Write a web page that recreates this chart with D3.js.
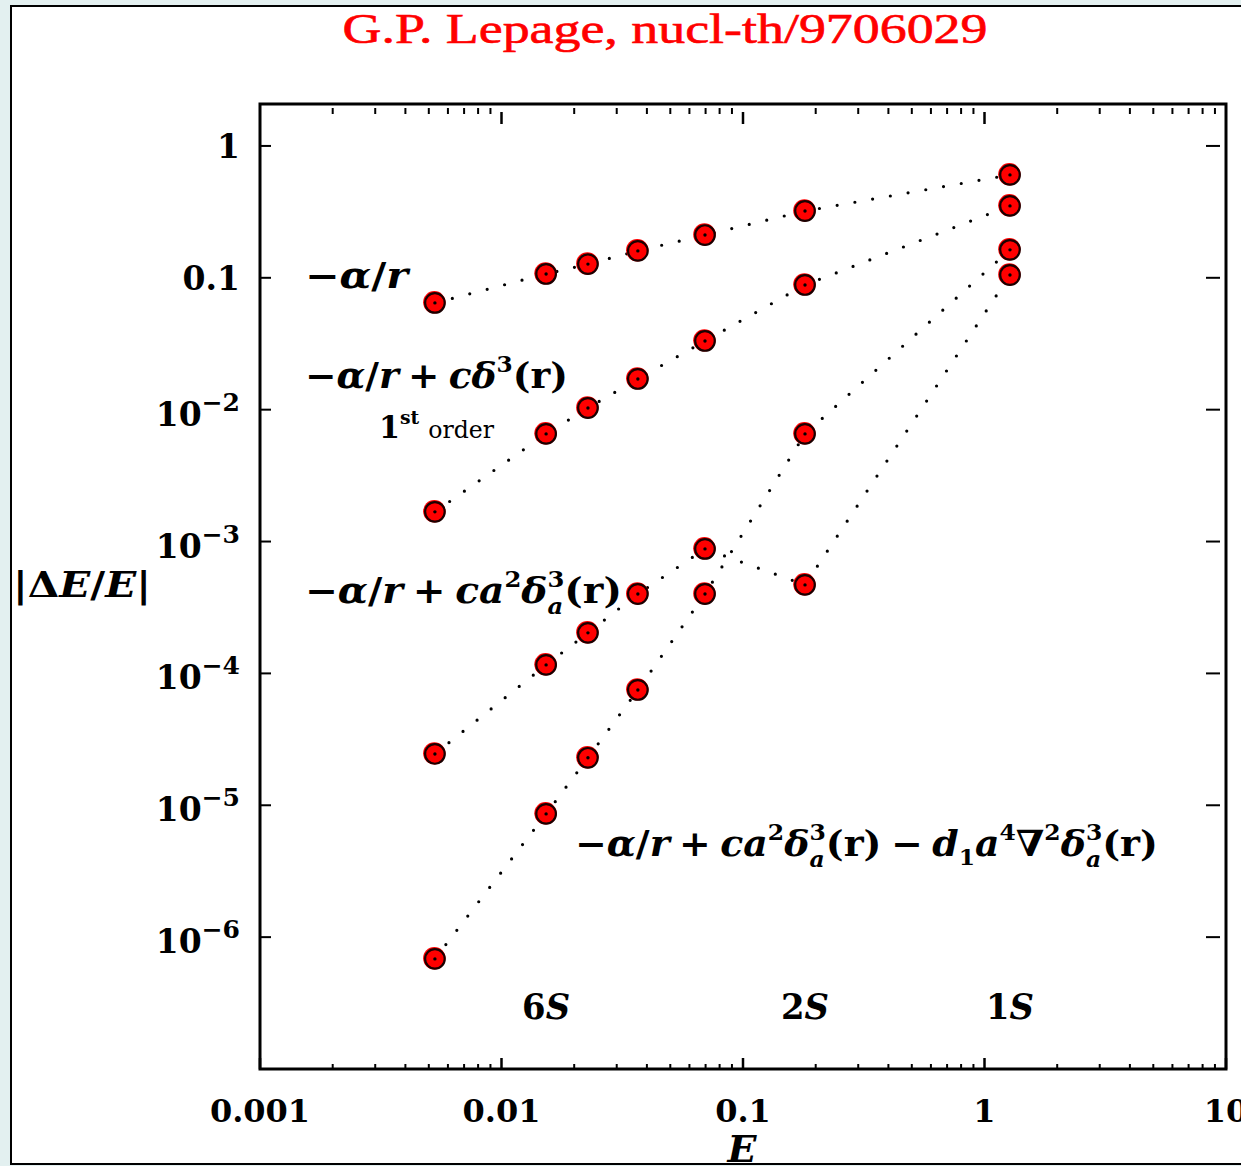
<!DOCTYPE html>
<html><head><meta charset="utf-8">
<script src="https://cdn.jsdelivr.net/npm/d3@7"></script>
<style>html,body{margin:0;padding:0;background:#e3f0f0;overflow:hidden}</style>
</head><body><svg id="c" width="1241" height="1166"></svg>
<script>
// ---------- data ----------
const energies        = [0.0053, 0.0153, 0.0228, 0.0367, 0.0696, 0.1806, 1.275];
const seriesCoulomb   = [0.0645, 0.107, 0.127, 0.160, 0.211, 0.321, 0.603];
const seriesDelta     = [0.00168, 0.00655, 0.0103, 0.0171, 0.0332, 0.0883, 0.351];
const seriesSmeared   = [2.45e-5, 1.16e-4, 2.03e-4, 4.0e-4, 8.79e-4, 4.69e-4, 0.105];
const seriesImproved  = [6.84e-7, 8.6e-6, 2.29e-5, 7.49e-5, 4.0e-4, 6.55e-3, 0.163];
const xTickValues = [0.001, 0.01, 0.1, 1, 10];
const xTickLabels = ["0.001", "0.01", "0.1", "1", "10"];
const yTickValues = [1, 0.1, 1e-2, 1e-3, 1e-4, 1e-5, 1e-6];
const yTickLabels = ["1", "0.1", "10|−2", "10|−3", "10|−4", "10|−5", "10|−6"];
const stateLabels = ["6", "2", "1"];
const stateEnergies = [0.0153, 0.1806, 1.275];

const FONT = "'DejaVu Serif', serif";
const svg = d3.select("#c");

// panel
svg.append("rect").attr("x", 11).attr("y", 6).attr("width", 1250).attr("height", 1158)
  .attr("fill", "#fff").attr("stroke", "#000").attr("stroke-width", 2);

// title
svg.append("text").attr("x", 665).attr("y", 43).attr("text-anchor", "middle")
  .attr("font-family", "'Liberation Serif', serif").attr("font-size", 42).attr("fill", "#ff0000")
  .attr("stroke", "#ff0000").attr("stroke-width", 0.6)
  .attr("textLength", 645).attr("lengthAdjust", "spacingAndGlyphs")
  .text("G.P. Lepage, nucl-th/9706029");

const L = 260, R = 1226, T = 104, B = 1069;
const x = d3.scaleLog().domain([0.001, 10]).range([L, R]);
const y = d3.scaleLog().domain([1e-7, 2.08]).range([B, T]);

// frame
svg.append("rect").attr("x", L).attr("y", T).attr("width", R - L).attr("height", B - T)
  .attr("fill", "none").attr("stroke", "#000").attr("stroke-width", 3);

// ticks
const minor = [];
for (let k = -3; k <= 0; k++) for (let m = 2; m <= 9; m++) minor.push(m * Math.pow(10, k));
const tg = svg.append("g").attr("stroke", "#000").attr("stroke-width", 2);
minor.forEach(v => {
  tg.append("line").attr("x1", x(v)).attr("x2", x(v)).attr("y1", B).attr("y2", B - 5);
  tg.append("line").attr("x1", x(v)).attr("x2", x(v)).attr("y1", T + 4).attr("y2", T + 10);
});
xTickValues.forEach(v => {
  tg.append("line").attr("x1", x(v)).attr("x2", x(v)).attr("y1", B).attr("y2", B - 11).attr("stroke-width", 2.5);
  if (v > 0.001 && v < 10)
    tg.append("line").attr("x1", x(v)).attr("x2", x(v)).attr("y1", T + 8).attr("y2", T + 20).attr("stroke-width", 2.5);
});
yTickValues.forEach(v => {
  tg.append("line").attr("x1", L).attr("x2", L + 11).attr("y1", y(v)).attr("y2", y(v));
  tg.append("line").attr("x1", R - 20).attr("x2", R - 6).attr("y1", y(v)).attr("y2", y(v));
});

// x tick labels
xTickValues.forEach((v, i) => {
  svg.append("text").attr("x", x(v)).attr("y", 1122).attr("text-anchor", "middle")
    .attr("font-family", FONT).attr("font-weight", "bold").attr("font-size", 32)
    .text(xTickLabels[i]);
});
// y tick labels
yTickValues.forEach((v, i) => {
  const parts = yTickLabels[i].split("|");
  const t = svg.append("text").attr("x", 240).attr("text-anchor", "end")
    .attr("font-family", FONT).attr("font-weight", "bold").attr("font-size", 33);
  if (parts.length === 1) {
    t.attr("y", y(v) + 12).text(parts[0]);
  } else {
    t.attr("y", y(v) + 16);
    t.append("tspan").text(parts[0]);
    t.append("tspan").attr("dy", -15).attr("font-size", 25).text(parts[1]);
  }
});

// lines
const line = d3.line().x(d => x(d[0])).y(d => y(d[1]));
const allSeries = [seriesCoulomb, seriesDelta, seriesSmeared, seriesImproved];
allSeries.forEach(s => {
  svg.append("path").datum(energies.map((e, i) => [e, s[i]])).attr("d", line)
    .attr("fill", "none").attr("stroke", "#000").attr("stroke-width", 3.2)
    .attr("stroke-linecap", "round").attr("stroke-dasharray", "0 18");
});
// markers
allSeries.forEach(s => {
  energies.forEach((e, i) => {
    const cx = x(e), cy = y(s[i]);
    svg.append("circle").attr("cx", cx - 0.6).attr("cy", cy - 0.6).attr("r", 11.2).attr("fill", "#ff0000");
    svg.append("circle").attr("cx", cx).attr("cy", cy).attr("r", 9.8).attr("fill", "#ff0000")
      .attr("stroke", "#1a0000").attr("stroke-width", 2.2);
    svg.append("circle").attr("cx", cx).attr("cy", cy).attr("r", 1.7).attr("fill", "#000");
  });
});

// math text helper
function drawMath(parts, o) {
  const size = o.size;
  const g = svg.append("g");
  let cx = 0;
  const place = (t, st, px, dy, sz) => {
    const el = g.append("text").attr("x", px).attr("y", dy).attr("font-size", sz)
      .attr("font-family", FONT).attr("font-weight", st === "r" ? "normal" : "bold")
      .attr("font-style", st === "i" ? "italic" : "normal").text(t);
    return el.node().getComputedTextLength();
  };
  parts.forEach(p => {
    if (p.gap !== undefined) { cx += p.gap * size; return; }
    if (p.stack) {
      const w1 = place(p.stack[0], "b", cx, -size * 0.45, size * 0.62);
      const w2 = place(p.stack[1], "i", cx, size * 0.3, size * 0.62);
      cx += Math.max(w1, w2);
      return;
    }
    const sz = (p.sup || p.sub) ? size * 0.62 : (p.scale ? size * p.scale : size);
    const dy = p.sup ? -size * 0.45 : p.sub ? size * 0.25 : 0;
    cx += place(p.t, p.s || "b", cx, dy, sz);
  });
  const sx = o.width ? o.width / cx : 1;
  const x0 = o.anchor === "middle" ? o.x - (cx * sx) / 2 : o.x;
  g.attr("transform", `translate(${x0},${o.y}) scale(${sx},1)`);
}
const base = [{t: "−"}, {t: "α", s: "i"}, {t: "/"}, {t: "r", s: "i"}];
const plus = [{gap: 0.25}, {t: "+"}, {gap: 0.25}];
const minus = [{gap: 0.25}, {t: "−"}, {gap: 0.25}];
const smear = [{t: "c", s: "i"}, {t: "a", s: "i"}, {t: "2", sup: true}, {t: "δ", s: "i"}, {stack: ["3", "a"]}, {t: "(r)"}];

drawMath(base, {x: 305, y: 288, size: 36, width: 103});
drawMath([...base, ...plus, {t: "c", s: "i"}, {t: "δ", s: "i"}, {t: "3", sup: true}, {t: "(r)"}],
  {x: 305, y: 388, size: 36, width: 263});
drawMath([{t: "1"}, {t: "st", sup: true}, {gap: 0.3}, {t: "order", s: "r", scale: 0.78}],
  {x: 379, y: 438, size: 31, width: 115});
drawMath([...base, ...plus, ...smear], {x: 305, y: 603, size: 36, width: 317});
drawMath([...base, ...plus, ...smear, ...minus, {t: "d", s: "i"}, {t: "1", sub: true}, {t: "a", s: "i"},
  {t: "4", sup: true}, {t: "∇"}, {t: "2", sup: true}, {t: "δ", s: "i"}, {stack: ["3", "a"]}, {t: "(r)"}],
  {x: 575, y: 856, size: 36, width: 583});

stateLabels.forEach((n, i) => {
  drawMath([{t: n}, {t: "S", s: "i"}], {x: x(stateEnergies[i]), y: 1019, size: 35, width: 48, anchor: "middle"});
});

// axis titles
drawMath([{t: "|"}, {t: "Δ"}, {t: "E", s: "i"}, {t: "/"}, {t: "E", s: "i"}, {t: "|"}],
  {x: 13, y: 597, size: 35, width: 138});
drawMath([{t: "E", s: "i"}], {x: 742, y: 1162, size: 38, anchor: "middle"});
</script></body></html>
